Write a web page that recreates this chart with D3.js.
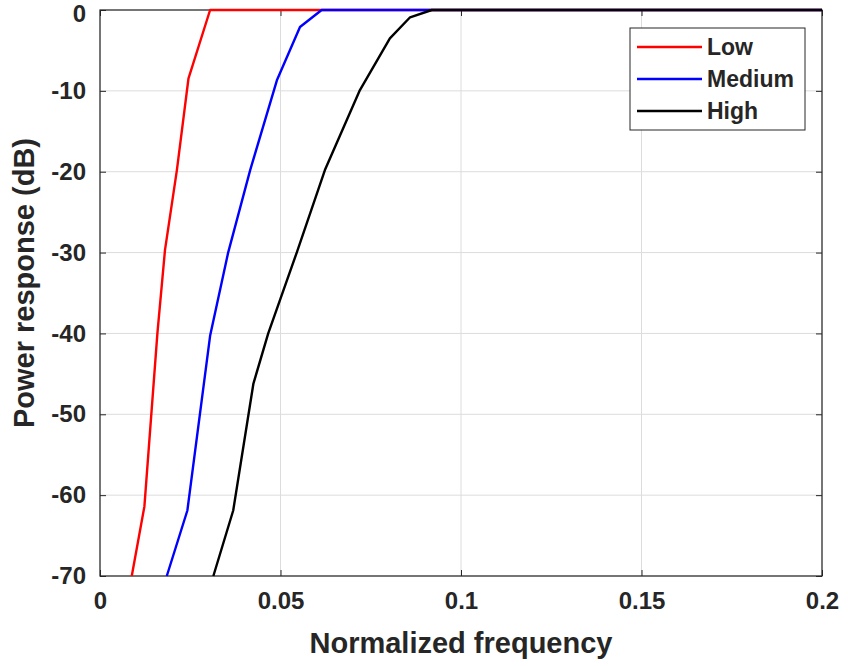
<!DOCTYPE html>
<html><head><meta charset="utf-8">
<script src="https://cdn.jsdelivr.net/npm/d3@7"></script>
<style>body{margin:0;background:#fff}svg{display:block}text{font-family:"Liberation Sans",Arial,sans-serif;font-weight:bold;fill:#262626}</style>
</head><body><svg id="c" width="848" height="666"></svg>
<script>
const xTicks=[0,0.05,0.1,0.15,0.2];
const xTickLabels=["0","0.05","0.1","0.15","0.2"];
const yTicks=[0,-10,-20,-30,-40,-50,-60,-70];
const yTickLabels=["0","-10","-20","-30","-40","-50","-60","-70"];
const seriesNames=["Low","Medium","High"];
const seriesColors=["#ff0000","#0000ff","#000000"];
const lowFreq=[0.0088,0.0123,0.0159,0.0180,0.0213,0.0245,0.0305,0.2];
const lowDb=[-70,-61.4,-40.0,-29.7,-19.8,-8.5,0,0];
const medFreq=[0.0185,0.0242,0.0305,0.0355,0.0416,0.0490,0.0554,0.0614,0.2];
const medDb=[-70,-61.9,-40.3,-30.0,-19.8,-8.7,-2.1,0,0];
const highFreq=[0.0314,0.0369,0.0425,0.0466,0.0545,0.0623,0.0720,0.0803,0.0859,0.0919,0.2];
const highDb=[-70,-61.9,-46.2,-40.0,-30.0,-19.8,-9.9,-3.5,-0.9,0,0];

const series=[[lowFreq,lowDb],[medFreq,medDb],[highFreq,highDb]];
const svg=d3.select("#c");
const L=100,R=822,T=10,B=576;
const x=d3.scaleLinear().domain([0,0.2]).range([L,R]);
const y=d3.scaleLinear().domain([-70,0]).range([B,T]);

// grid
svg.append("g").selectAll("line").data(xTicks).join("line")
 .attr("x1",d=>x(d)).attr("x2",d=>x(d)).attr("y1",T).attr("y2",B)
 .attr("stroke","#dcdcdc").attr("stroke-width",1);
svg.append("g").selectAll("line").data(yTicks).join("line")
 .attr("y1",d=>y(d)).attr("y2",d=>y(d)).attr("x1",L).attr("x2",R)
 .attr("stroke","#dcdcdc").attr("stroke-width",1);

// axes
const xa=d3.axisBottom(x).tickValues(xTicks).tickFormat((d,i)=>xTickLabels[i]).tickSizeInner(-6).tickSizeOuter(0).tickPadding(16);
const ya=d3.axisLeft(y).tickValues(yTicks).tickFormat((d,i)=>yTickLabels[i]).tickSizeInner(-6).tickSizeOuter(0).tickPadding(14);
const gx=svg.append("g").attr("transform",`translate(0,${B})`).call(xa);
const gy=svg.append("g").attr("transform",`translate(${L},0)`).call(ya);
const gx2=svg.append("g").attr("transform",`translate(0,${T})`).call(d3.axisTop(x).tickValues(xTicks).tickFormat("").tickSizeInner(-6).tickSizeOuter(0));
const gy2=svg.append("g").attr("transform",`translate(${R},0)`).call(d3.axisRight(y).tickValues(yTicks).tickFormat("").tickSizeInner(-6).tickSizeOuter(0));
[gx,gy,gx2,gy2].forEach(g=>{g.select(".domain").remove();g.selectAll("line").attr("stroke","#262626");});
[gx,gy].forEach(g=>g.selectAll("text").style("font-size","24px").style("font-family","Liberation Sans").style("font-weight","bold").attr("fill","#262626"));
gy.selectAll("text").filter((d,i)=>i===0).attr("dy","0.48em");
svg.append("rect").attr("x",L).attr("y",T).attr("width",R-L).attr("height",B-T)
 .attr("fill","none").attr("stroke","#262626").attr("stroke-width",1.2);

// lines
const line=d3.line().x(d=>x(d[0])).y(d=>y(d[1]));
series.forEach((s,i)=>{
  const pts=s[0].map((f,j)=>[f,s[1][j]]);
  svg.append("path").datum(pts).attr("d",line).attr("fill","none")
   .attr("stroke",seriesColors[i]).attr("stroke-width",2.4).attr("stroke-linejoin","round");
});

// labels
svg.append("text").attr("x",(L+R)/2).attr("y",653).attr("text-anchor","middle")
 .style("font-size","29px").text("Normalized frequency");
svg.append("text").attr("transform",`translate(34,283) rotate(-90)`).attr("text-anchor","middle")
 .style("font-size","29px").text("Power response (dB)");

// legend
const lg=svg.append("g");
lg.append("rect").attr("x",630).attr("y",28).attr("width",175).attr("height",102)
 .attr("fill","#fff").attr("stroke","#262626").attr("stroke-width",1);
const ly=d3.scalePoint().domain(seriesNames).range([47,111]);
seriesNames.forEach((n,i)=>{
  lg.append("line").attr("x1",637).attr("x2",702).attr("y1",ly(n)).attr("y2",ly(n))
   .attr("stroke",seriesColors[i]).attr("stroke-width",2.4);
  lg.append("text").attr("x",707).attr("y",ly(n)).attr("dy","0.36em")
   .style("font-size","23px").text(n);
});
</script></body></html>
